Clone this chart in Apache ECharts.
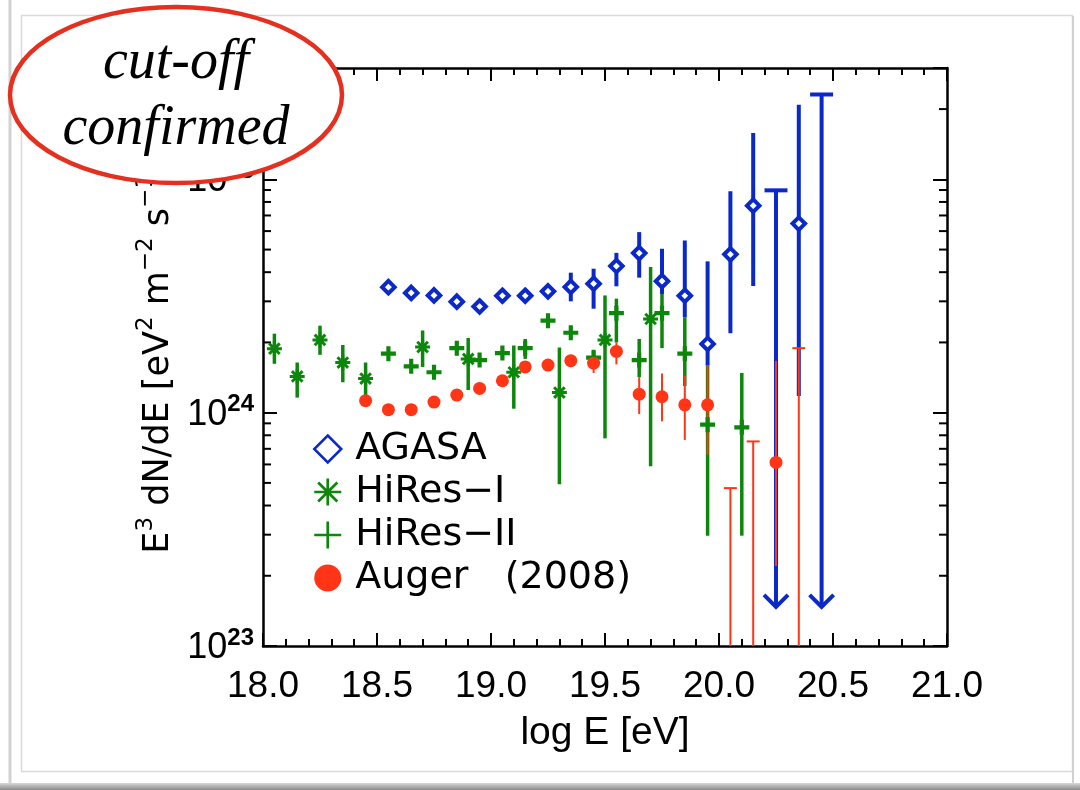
<!DOCTYPE html>
<html>
<head>
<meta charset="utf-8">
<script src="https://cdn.jsdelivr.net/npm/echarts@6/dist/echarts.min.js"></script>
<style>
html,body{margin:0;padding:0;background:#fff;}
#chart{width:1080px;height:790px;}
</style>
</head>
<body>
<div id="chart"></div>
<script>
// ---------------- data ----------------
const xTickLabels = ['18.0','18.5','19.0','19.5','20.0','20.5','21.0'];
const yMinorTicks = [2e23,3e23,4e23,5e23,6e23,7e23,8e23,9e23,
                     2e24,3e24,4e24,5e24,6e24,7e24,8e24,9e24,2e25];

// AGASA
const agasaX  = [18.55,18.65,18.75,18.85,18.95,19.05,19.15,19.25,19.35,19.45,19.55,19.65,19.75,19.85,19.95,20.05,20.15,20.35];
const agasaY  = [3.45e24,3.26e24,3.18e24,2.99e24,2.85e24,3.17e24,3.17e24,3.31e24,3.46e24,3.57e24,4.25e24,4.83e24,3.66e24,3.17e24,1.97e24,4.77e24,7.71e24,6.46e24];
const agasaHi = [null,null,null,null,null,null,null,null,3.98e24,4.14e24,4.84e24,5.94e24,5.04e24,5.47e24,4.45e24,8.9e24,1.58e25,2.09e25];
const agasaLo = [null,null,null,null,null,null,null,null,3.0e24,2.79e24,3.48e24,3.79e24,3.23e24,2.56e24,1.59e24,2.19e24,3.49e24,1.18e24];
const agasaLimX   = [20.25, 20.45];
const agasaLimY   = [8.97e24, 2.31e25];
const agasaLimEnd = [1.47e23, 1.47e23];

// HiRes-I
const hires1X  = [18.05,18.15,18.25,18.35,18.45,18.70,18.90,19.10,19.30,19.50,19.70];
const hires1Y  = [1.88e24,1.43e24,2.05e24,1.64e24,1.40e24,1.91e24,1.70e24,1.49e24,1.22e24,2.05e24,2.52e24];
const hires1Hi = [2.18e24,1.64e24,2.36e24,1.95e24,1.64e24,2.25e24,2.09e24,1.94e24,1.90e24,3.18e24,4.21e24];
const hires1Lo = [1.62e24,1.16e24,1.77e24,1.35e24,1.19e24,1.57e24,1.25e24,1.04e24,4.94e23,7.76e23,5.89e23];

// HiRes-II
const hires2X  = [18.55,18.65,18.75,18.85,18.95,19.05,19.15,19.25,19.35,19.45,19.55,19.65,19.75,19.85,19.95,20.10];
const hires2Y  = [1.79e24,1.58e24,1.49e24,1.89e24,1.68e24,1.80e24,1.89e24,2.48e24,2.20e24,1.72e24,2.67e24,1.68e24,2.67e24,1.79e24,8.88e23,8.65e23];
const hires2Hi = [null,null,null,null,null,null,2.07e24,null,null,1.86e24,3.08e24,2.07e24,3.65e24,2.56e24,1.59e24,1.48e24];
const hires2Lo = [null,null,null,null,null,null,1.70e24,null,null,1.58e24,2.0e24,1.42e24,1.89e24,1.30e24,2.97e23,2.97e23];

// Auger (2008)
const augerX  = [18.45,18.55,18.65,18.75,18.85,18.95,19.05,19.15,19.25,19.35,19.45,19.55,19.65,19.75,19.85,19.95,20.25];
const augerY  = [1.126e24,1.03e24,1.03e24,1.11e24,1.19e24,1.27e24,1.37e24,1.57e24,1.60e24,1.67e24,1.63e24,1.83e24,1.20e24,1.17e24,1.08e24,1.08e24,6.12e23];
const augerHi = [null,null,null,null,null,null,null,null,null,1.76e24,1.79e24,2.0e24,1.42e24,1.47e24,1.44e24,1.59e24,1.67e24];
const augerLo = [null,null,null,null,null,null,null,null,null,1.58e24,1.48e24,1.61e24,9.86e23,9.18e23,7.64e23,6.61e23,2.2e23];
const augerLimX   = [20.05, 20.15, 20.35];
const augerLimY   = [4.75e23, 7.53e23, 1.89e24];
const augerLimEnd = [1e22, 1e22, 1e22];

// ---------------- styling ----------------
const BLUE = '#0b28c8', GREEN = '#0c870c', RED = '#ff3516';

const PLUS_DATA   = 'path://M36,0H64V36H100V64H64V100H36V64H0V36H36Z';
const PLUS_LEGEND = 'path://M45,0H55V45H100V55H55V100H45V55H0V45H45Z';
function asterisk(t) {
  const a = 14.6, b = 85.4, d = t / Math.SQRT2;
  const f = v => v.toFixed(2);
  return 'path://' +
    'M' + f(50 - t) + ',0H' + f(50 + t) + 'V100H' + f(50 - t) + 'Z' +
    'M0,' + f(50 - t) + 'H100V' + f(50 + t) + 'H0Z' +
    'M' + f(a + d) + ',' + f(a - d) + 'L' + f(b + d) + ',' + f(b - d) + 'L' + f(b - d) + ',' + f(b + d) + 'L' + f(a - d) + ',' + f(a + d) + 'Z' +
    'M' + f(b + d) + ',' + f(a + d) + 'L' + f(a + d) + ',' + f(b + d) + 'L' + f(a - d) + ',' + f(b - d) + 'L' + f(b - d) + ',' + f(a - d) + 'Z';
}
const ASTER_DATA = asterisk(10);
const ASTER_LEGEND = asterisk(5);

function pts(xs, ys) { return xs.map((x, i) => [x, ys[i]]); }
function errRows(xs, lo, hi) {
  const out = [];
  xs.forEach((x, i) => { if (hi[i] != null && lo[i] != null) out.push([x, lo[i], hi[i]]); });
  return out;
}
function limRows(xs, tops, ends) { return xs.map((x, i) => [x, ends[i], tops[i]]); }

function errSeries(name, rows, color, width) {
  return {
    type: 'custom', name: name, silent: true, data: rows,
    encode: { x: 0, y: [1, 2] },
    renderItem: function (params, api) {
      const cs = params.coordSys;
      const x = api.value(0), lo = api.value(1), hi = api.value(2);
      const pH = api.coord([x, hi]), pL = api.coord([x, lo]);
      const y1 = Math.max(cs.y, pH[1]), y2 = Math.min(cs.y + cs.height, pL[1]);
      return { type: 'line', shape: { x1: pH[0], y1: y1, x2: pH[0], y2: y2 },
               style: { stroke: color, lineWidth: width } };
    }
  };
}
function limSeries(name, rows, color, width, capW, arrow) {
  return {
    type: 'custom', name: name, silent: true, data: rows,
    encode: { x: 0, y: [1, 2] },
    renderItem: function (params, api) {
      const cs = params.coordSys;
      const x = api.value(0), end = api.value(1), top = api.value(2);
      const pT = api.coord([x, top]), pE = api.coord([x, end]);
      const yE = Math.min(cs.y + cs.height, pE[1]);
      const children = [
        { type: 'line', shape: { x1: pT[0], y1: pT[1], x2: pT[0], y2: yE }, style: { stroke: color, lineWidth: width } },
        { type: 'line', shape: { x1: pT[0] - capW / 2, y1: pT[1], x2: pT[0] + capW / 2, y2: pT[1] }, style: { stroke: color, lineWidth: width } }
      ];
      if (arrow) {
        children.push({ type: 'polyline', shape: { points: [[pT[0] - 12, yE - 12], [pT[0], yE], [pT[0] + 12, yE - 12]] },
                        style: { stroke: color, lineWidth: width, fill: null } });
      }
      return { type: 'group', children: children };
    }
  };
}

const axisLineStyle = { color: '#000', width: 2.5 };
const tickStyle = { color: '#000', width: 2 };

function xAxisDef(pos, showLabel) {
  return {
    type: 'value', min: 18, max: 21, interval: 0.5, position: pos,
    axisLine: { show: true, onZero: false, lineStyle: axisLineStyle },
    axisTick: { show: true, inside: true, length: 13, lineStyle: tickStyle },
    minorTick: { show: true, splitNumber: 5, length: 7, lineStyle: tickStyle },
    splitLine: { show: false }, minorSplitLine: { show: false },
    axisLabel: showLabel ? {
      show: true, margin: 22, color: '#000', fontSize: 37, fontFamily: 'Liberation Sans',
      formatter: function (v) { const i = Math.round((v - 18) / 0.5); return xTickLabels[i] || ''; }
    } : { show: false },
    name: showLabel ? 'log E [eV]' : '',
    nameLocation: 'middle', nameGap: 68,
    nameTextStyle: { color: '#000', fontSize: 39, fontFamily: 'Liberation Sans' }
  };
}
function yAxisDef(pos, showLabel) {
  const ax = {
    type: 'log', logBase: 10, min: 1e23, max: 3e25, position: pos,
    axisLine: { show: true, onZero: false, lineStyle: axisLineStyle },
    axisTick: { show: true, inside: true, length: 14, lineStyle: tickStyle },
    splitLine: { show: false },
    axisLabel: { show: false }
  };
  if (showLabel) {
    ax.axisLabel = {
      show: true, margin: 9, showMaxLabel: false, color: '#000',
      formatter: function (v) {
        const l = Math.log10(v), e = Math.round(l);
        if (Math.abs(l - e) > 1e-6) return '';
        return '{b|10}{s|' + e + '}';
      },
      rich: {
        b: { fontSize: 36, fontFamily: 'Liberation Sans', color: '#000', verticalAlign: 'bottom', lineHeight: 40 },
        s: { fontSize: 24, fontFamily: 'Liberation Sans', fontWeight: 'bold', color: '#000', verticalAlign: 'top', lineHeight: 24 }
      }
    };
    ax.name = '{n|E}{s|3}{n| dN/dE [eV}{s|2}{n| m}{s|\u22122}{n| s}{s|\u22121}{n|]}';
    ax.nameLocation = 'middle';
    ax.nameGap = 87;
    ax.nameRotate = 90;
    ax.nameTextStyle = {
      color: '#000', fontSize: 35, fontFamily: 'DejaVu Sans',
      rich: {
        n: { fontSize: 35, fontFamily: 'DejaVu Sans', color: '#000', verticalAlign: 'bottom', lineHeight: 41 },
        s: { fontSize: 23, fontFamily: 'DejaVu Sans', color: '#000', verticalAlign: 'top', lineHeight: 23 }
      }
    };
  }
  return ax;
}

const option = {
  animation: false,
  backgroundColor: '#fff',
  grid: { left: 263, right: 133, top: 68, bottom: 144, containLabel: false },
  xAxis: [xAxisDef('bottom', true), xAxisDef('top', false)],
  yAxis: [yAxisDef('left', true), yAxisDef('right', false)],
  legend: {
    orient: 'vertical', left: 308, top: 425,
    itemWidth: 27, itemHeight: 27, itemGap: 5,
    selectedMode: false,
    textStyle: { fontSize: 38, color: '#000', fontFamily: 'DejaVu Sans', padding: [0, 0, 0, 9] },
    data: [
      { name: 'AGASA', icon: 'diamond', itemStyle: { color: '#fff', borderColor: BLUE, borderWidth: 2.5 } },
      { name: 'HiRes\u2212I', icon: ASTER_LEGEND, itemStyle: { color: GREEN, borderWidth: 0 } },
      { name: 'HiRes\u2212II', icon: PLUS_LEGEND, itemStyle: { color: GREEN, borderWidth: 0 } },
      { name: 'Auger   (2008)', icon: 'circle', itemStyle: { color: RED, borderWidth: 0 } }
    ]
  },
  series: [
    errSeries('_h2err', errRows(hires2X, hires2Lo, hires2Hi), GREEN, 3.5),
    { type: 'scatter', name: 'HiRes\u2212II', data: pts(hires2X, hires2Y), symbol: PLUS_DATA, symbolSize: 15,
      itemStyle: { color: GREEN, opacity: 1 }, silent: true },
    errSeries('_h1err', errRows(hires1X, hires1Lo, hires1Hi), GREEN, 3.5),
    { type: 'scatter', name: 'HiRes\u2212I', data: pts(hires1X, hires1Y), symbol: ASTER_DATA, symbolSize: 15,
      itemStyle: { color: GREEN, opacity: 1 }, silent: true },
    errSeries('_agerr', errRows(agasaX, agasaLo, agasaHi), BLUE, 4),
    limSeries('_aglim', limRows(agasaLimX, agasaLimY, agasaLimEnd), BLUE, 4, 23, true),
    { type: 'scatter', name: 'AGASA', data: pts(agasaX, agasaY), symbol: 'diamond', symbolSize: 12.5,
      itemStyle: { color: '#fff', borderColor: BLUE, borderWidth: 4, opacity: 1 }, silent: true },
    errSeries('_auerr', errRows(augerX, augerLo, augerHi), RED, 2),
    limSeries('_aulim', limRows(augerLimX, augerLimY, augerLimEnd), RED, 2, 13, false),
    { type: 'scatter', name: 'Auger   (2008)', data: pts(augerX, augerY), symbol: 'circle', symbolSize: 13,
      itemStyle: { color: RED, opacity: 1 }, silent: true },
    {
      type: 'custom', name: '_minor', silent: true,
      data: yMinorTicks.map(v => [18, v]),
      encode: { x: 0, y: 1 },
      renderItem: function (params, api) {
        const v = api.value(1);
        const pL = api.coord([18, v]), pR = api.coord([21, v]);
        return { type: 'group', children: [
          { type: 'line', shape: { x1: pL[0], y1: pL[1], x2: pL[0] + 8, y2: pL[1] }, style: { stroke: '#000', lineWidth: 2 } },
          { type: 'line', shape: { x1: pR[0] - 8, y1: pR[1], x2: pR[0], y2: pR[1] }, style: { stroke: '#000', lineWidth: 2 } }
        ] };
      }
    }
  ],
  graphic: [
    { type: 'rect', silent: true, z: -10, shape: { x: 21.5, y: 15.5, width: 1051, height: 756 },
      style: { fill: null, stroke: '#dadada', lineWidth: 1.5 } },
    { type: 'line', silent: true, z: -10, shape: { x1: 10, y1: 0, x2: 10, y2: 784 },
      style: { stroke: '#d2d2d2', lineWidth: 3 } },
    { type: 'line', silent: true, z: -10, shape: { x1: 1073, y1: 16, x2: 1073, y2: 784 },
      style: { stroke: '#d0d0d0', lineWidth: 2 } },
    { type: 'rect', silent: true, z: -10, shape: { x: 0, y: 783, width: 1080, height: 7 },
      style: { fill: { type: 'linear', x: 0, y: 0, x2: 0, y2: 1,
        colorStops: [{ offset: 0, color: '#d8d8d8' }, { offset: 1, color: '#8a8a8a' }] } } },
    { type: 'ellipse', silent: true, z: 100, shape: { cx: 176, cy: 95, rx: 166, ry: 88 },
      style: { fill: '#fff', stroke: '#e5301f', lineWidth: 4.5 } },
    { type: 'text', silent: true, z: 101, x: 176, y: 63,
      style: { text: 'cut-off', font: 'italic 56px "Liberation Serif"', textAlign: 'center', textVerticalAlign: 'middle', fill: '#000' } },
    { type: 'text', silent: true, z: 101, x: 176, y: 129,
      style: { text: 'confirmed', font: 'italic 56px "Liberation Serif"', textAlign: 'center', textVerticalAlign: 'middle', fill: '#000' } }
  ]
};

const chart = echarts.init(document.getElementById('chart'), null, { renderer: 'canvas' });
chart.setOption(option);
</script>
</body>
</html>
